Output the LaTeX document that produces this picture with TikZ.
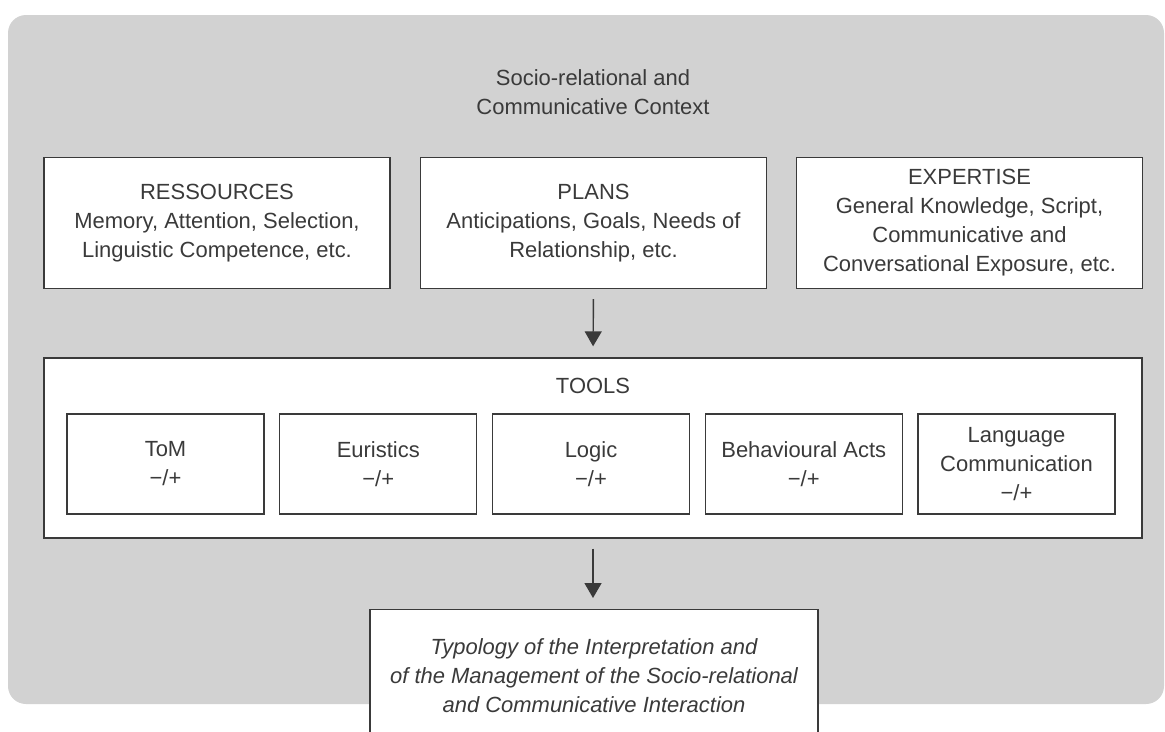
\documentclass[tikz,border=0pt]{standalone}
\usepackage{fontspec}
\setmainfont{Liberation Sans}
\usepackage{tikz}
\usetikzlibrary{arrows.meta}

\definecolor{ink}{HTML}{3A3A3A}
\definecolor{paper}{HTML}{D2D2D2}

\begin{document}
\begin{tikzpicture}[x=0.02cm, y=-0.02cm,
  txt/.style={font=\fontsize{12.5}{16.5}\selectfont, text=ink, align=center},
  box/.style={txt, draw=ink, line width=0.8pt, fill=white, inner sep=0pt},
  topbox/.style={box, minimum width=6.92cm, minimum height=2.62cm},
  toolbox/.style={box, minimum width=3.94cm, minimum height=2cm},
  flow/.style={draw=ink, line width=0.8pt, -{Triangle[length=0.3cm, width=0.34cm]},
    shorten <=0.2cm, shorten >=0.22cm}]
\useasboundingbox (0,0) rectangle (1165,731);
\clip (0,0) rectangle (1165,731);
%background
\fill[paper, rounded corners=0.36cm] (8,15) rectangle (1164,704);
\node[txt] (context) at (593,92) {Socio-relational and\\Communicative Context};
%upper row
\node[topbox] (res) at (217,223) {RESSOURCES\\Memory, Attention, Selection,\\Linguistic Competence, etc.};
\node[topbox] (plans) at (593.5,223) {PLANS\\Anticipations, Goals, Needs of\\Relationship, etc.};
\node[topbox] (exp) at (969.5,223) {EXPERTISE\\General Knowledge, Script,\\Communicative and\\Conversational Exposure, etc.};
%tools
\node[box, minimum width=21.96cm, minimum height=3.6cm] (tools) at (593,448) {};
\node[txt] (toolstitle) at (593,386) {TOOLS};
\foreach \name/\lbl [count=\i from 0] in {tom/ToM, eur/Euristics, logic/Logic,
    acts/Behavioural Acts, lang/{Language\\Communication}}
  \node[toolbox] (\name) at (165.5+212.75*\i,464) {\lbl\\\char"2212/+};
%result
\node[box, font=\fontsize{12.5}{16.5}\selectfont\itshape, anchor=north,
  minimum width=8.96cm, text height=2.06cm, text depth=1cm] (typology) at (594,609)
  {Typology of the Interpretation and\\of the Management of the Socio-relational\\and Communicative Interaction};
%arrows
\draw[flow] (plans.south) -- (tools.north);
\draw[flow] (tools.south) -- (tools.south |- typology.north);
\end{tikzpicture}
\end{document}
